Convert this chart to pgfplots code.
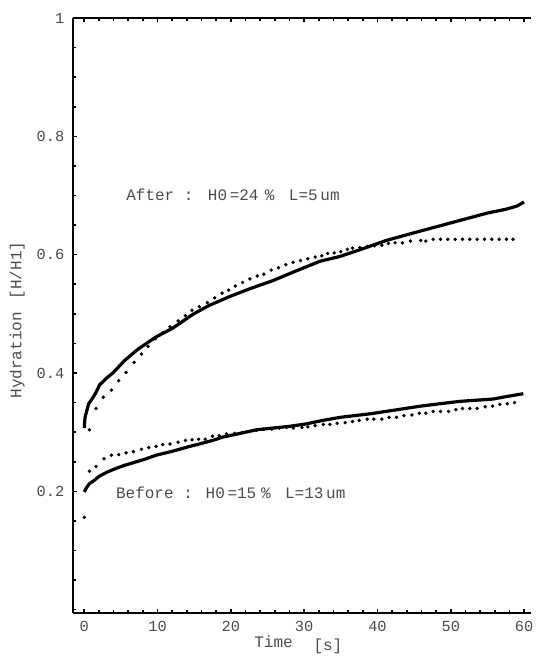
\documentclass[border=0pt]{standalone}
\usepackage{pgfplots}
\pgfplotsset{compat=1.18}
\usepackage{fontspec}
\setmainfont{Liberation Mono}
\definecolor{txt}{gray}{0.3}
\begin{document}
\begin{tikzpicture}
\begin{axis}[
  scale only axis,
  width=343.5pt, height=446pt,
  xmin=-1.54, xmax=60.94,
  ymin=-0.005, ymax=1,
  axis x line=box, axis y line=left,
  x axis line style={-}, y axis line style={-},
  axis line style={line width=1.4pt},
  tick align=inside,
  xtick pos=both, ytick pos=left,
  xtick={0,10,...,60},
  minor xtick={0,2,...,60},
  ytick={0.2,0.4,0.6,0.8,1},
  yticklabels={0.2,0.4,0.6,0.8,1},
  minor ytick={0,0.05,...,1.0},
  major tick length=3pt, minor tick length=2pt,
  every tick/.style={black, line width=1.2pt},
  /pgf/number format/assume math mode=true,
  tick label style={font=\fontsize{11.5}{12}\selectfont, text=txt},
  xticklabel style={yshift=-3pt},
  yticklabel style={xshift=-3pt},
  xlabel={Time\hspace{1.3em}\raisebox{-2pt}{[s]}},
  ylabel={Hydration\hspace{0.8em}[H/H1]},
  label style={font=\fontsize{12}{13}\selectfont, text=txt},
  xlabel style={at={(axis description cs:0.492,0)}, anchor=north, yshift=-14pt},
  ylabel style={at={(axis description cs:-0.122,0.492)}, anchor=center},
  clip=false,
]
% After, solid
\addplot[black, line width=2.4pt, line join=round] coordinates {
(0,0.307)(0.1,0.325)(0.6,0.348)(1.0,0.355)(1.5,0.365)(2.1,0.380)(3.0,0.391)
(3.9,0.400)(5.5,0.421)(7.3,0.440)(9.8,0.461)(12.1,0.476)(14.8,0.499)
(17.0,0.514)(19.8,0.529)(22.5,0.542)(25.7,0.556)(29,0.573)(32.2,0.589)
(34.9,0.597)(38,0.610)(41.2,0.624)(45,0.637)(48,0.647)(51,0.657)
(54.9,0.670)(57.6,0.677)(59,0.682)(60,0.689)
};
% After, dotted
\addplot[only marks, mark=*, mark size=1.1pt, black] coordinates {
(0.7,0.304)(1.6,0.340)(2.6,0.359)(3.7,0.371)(4.7,0.387)(5.7,0.401)(6.8,0.418)
(7.8,0.432)(8.7,0.445)(9.7,0.458)(10.7,0.468)(11.7,0.478)(12.8,0.488)
(13.8,0.497)(14.7,0.506)(15.7,0.512)(16.8,0.519)(17.8,0.527)(18.8,0.535)
(19.7,0.540)(20.6,0.547)(21.6,0.553)(22.6,0.559)(23.6,0.564)(24.5,0.567)
(25.5,0.574)(26.5,0.578)(27.5,0.583)(28.5,0.587)(29.5,0.590)(30.5,0.593)
(31.5,0.596)(32.4,0.598)(33.2,0.602)(34.1,0.603)(35.0,0.605)(35.9,0.609)
(36.6,0.611)(37.6,0.612)(38.6,0.614)(39.6,0.615)(40.6,0.616)(41.5,0.619)
(42.4,0.620)(43.4,0.620)(44.5,0.623)(45.9,0.624)(46.6,0.623)(47.6,0.626)
(48.6,0.626)(49.6,0.626)(50.6,0.626)(51.6,0.626)(52.6,0.626)(53.6,0.626)
(54.6,0.626)(55.6,0.626)(56.6,0.626)(57.6,0.626)(58.5,0.626)
};
% Before, solid
\addplot[black, line width=2.4pt, line join=round] coordinates {
(0,0.199)(0.3,0.206)(0.7,0.213)(1.3,0.218)(2.1,0.226)(3.2,0.233)(4.4,0.239)
(5.5,0.244)(6.6,0.248)(8.2,0.254)(9.8,0.261)(12.1,0.268)(14.4,0.276)
(15.7,0.280)(17.5,0.286)(19.0,0.292)(21.3,0.298)(23.5,0.304)(25.8,0.307)
(28.1,0.310)(30.3,0.314)(32.6,0.320)(34.9,0.325)(37.6,0.329)(39.0,0.331)
(42.2,0.337)(45.9,0.344)(48.5,0.348)(51.2,0.352)(55.8,0.356)(57.5,0.360)
(59.9,0.365)
};
% Before, dotted
\addplot[only marks, mark=*, mark size=1.1pt, black] coordinates {
(0,0.156)(0.7,0.234)(1.6,0.242)(2.7,0.255)(3.7,0.261)(4.7,0.262)(5.7,0.265)
(6.7,0.267)(7.8,0.271)(8.8,0.274)(9.8,0.276)(10.7,0.279)(11.7,0.280)
(12.8,0.283)(13.8,0.286)(14.7,0.287)(15.6,0.288)(16.5,0.288)(17.5,0.293)
(18.4,0.294)(19.4,0.297)(20.5,0.298)(21.5,0.299)(22.5,0.301)(23.5,0.303)
(24.5,0.305)(25.6,0.305)(26.6,0.307)(27.6,0.308)(28.5,0.307)(29.7,0.308)
(30.5,0.309)(31.5,0.311)(32.6,0.313)(33.5,0.313)(34.5,0.315)(35.6,0.316)
(36.6,0.318)(37.5,0.320)(38.6,0.322)(39.5,0.322)(40.6,0.322)(41.6,0.325)
(42.6,0.325)(43.6,0.328)(44.7,0.329)(45.7,0.332)(46.6,0.332)(47.6,0.335)
(48.6,0.335)(49.7,0.335)(50.7,0.338)(51.6,0.340)(52.6,0.340)(53.6,0.340)
(54.7,0.343)(55.7,0.344)(56.7,0.347)(57.7,0.348)(58.7,0.350)
};
\node[anchor=west, inner sep=0pt, text=txt, font=\fontsize{12}{13}\selectfont]
  at (axis cs:5.7,0.702) {After :\hspace{0.9em}H0\,=24\hspace{0.4em}\%\hspace{0.9em}L=5\,um};
\node[anchor=west, inner sep=0pt, text=txt, font=\fontsize{12}{13}\selectfont]
  at (axis cs:4.3,0.197) {Before :\hspace{0.8em}H0\,=15\hspace{0.3em}\%\hspace{0.9em}L=13\,um};
\end{axis}
\path (current axis.south west) ++(-54.75pt,-34pt) coordinate (bbsw);
\path ([yshift=13.5pt]current axis.north east) coordinate (bbne);
\path (bbsw) rectangle (bbne);
\end{tikzpicture}
\end{document}
